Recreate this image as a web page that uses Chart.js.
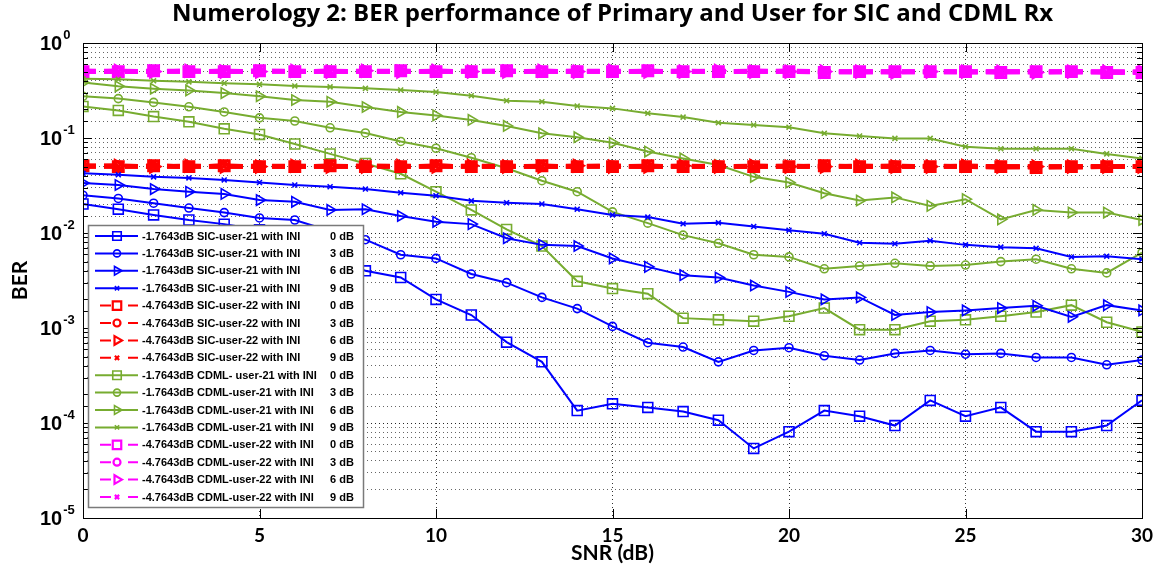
<!DOCTYPE html>
<html>
<head>
<meta charset="utf-8">
<script src="https://cdn.jsdelivr.net/npm/chart.js@4.4.0/dist/chart.umd.min.js"></script>
<style>
  body { margin: 0; background: #fff; }
</style>
</head>
<body>
<canvas id="berChart" width="1163" height="576"></canvas>
<script>
// SNR axis (dB)
const snr = [0,1,2,3,4,5,6,7,8,9,10,11,12,13,14,15,16,17,18,19,20,21,22,23,24,25,26,27,28,29,30];

// SIC receiver, user-21 (-1.7643 dB)
const sicU21_0 = [0.0202,0.0178,0.0155,0.0137,0.0124,0.0108,0.0086,0.0060,0.0040,0.0034,0.0020,0.00137,0.00071,0.00044,0.000135,0.000159,0.000146,0.000132,0.000107,0.000054,0.000081,0.000135,0.000118,0.000094,0.000173,0.000118,0.000146,0.000081,0.000081,0.000094,0.000173];
const sicU21_3 = [0.025,0.0231,0.0206,0.0183,0.0164,0.0144,0.0137,0.0105,0.0085,0.0059,0.0054,0.0037,0.0030,0.0021,0.0016,0.00104,0.00070,0.00063,0.00044,0.00058,0.00062,0.00051,0.00046,0.00054,0.00058,0.00053,0.00054,0.00049,0.00049,0.00041,0.00046];
const sicU21_6 = [0.0335,0.032,0.029,0.0272,0.0258,0.0222,0.0213,0.0175,0.0178,0.0151,0.0131,0.0124,0.0088,0.0075,0.0073,0.0054,0.0044,0.0036,0.0034,0.0028,0.0024,0.0020,0.0021,0.00137,0.00147,0.00153,0.00162,0.00171,0.00131,0.00174,0.00153];
const sicU21_9 = [0.0425,0.041,0.039,0.038,0.0362,0.034,0.032,0.0307,0.029,0.0265,0.0247,0.0218,0.0208,0.0202,0.0178,0.0155,0.0147,0.0125,0.0128,0.0117,0.0107,0.0098,0.0079,0.0077,0.0083,0.0075,0.0071,0.0069,0.0056,0.0057,0.0053];

// SIC receiver, user-22 (-4.7643 dB)
const sicU22_0 = [0.051,0.050,0.051,0.050,0.051,0.050,0.050,0.051,0.050,0.050,0.051,0.050,0.050,0.051,0.050,0.050,0.051,0.050,0.050,0.050,0.050,0.051,0.050,0.050,0.050,0.050,0.050,0.049,0.050,0.050,0.050];
const sicU22_3 = [0.050,0.051,0.050,0.050,0.050,0.051,0.050,0.050,0.051,0.050,0.050,0.050,0.051,0.050,0.050,0.051,0.050,0.050,0.051,0.050,0.050,0.050,0.050,0.051,0.050,0.050,0.049,0.050,0.050,0.050,0.050];
const sicU22_6 = [0.051,0.051,0.050,0.051,0.050,0.050,0.051,0.050,0.050,0.051,0.050,0.051,0.050,0.050,0.051,0.050,0.050,0.051,0.050,0.051,0.050,0.050,0.051,0.050,0.050,0.051,0.050,0.050,0.050,0.050,0.050];
const sicU22_9 = [0.050,0.050,0.051,0.050,0.051,0.050,0.050,0.050,0.051,0.050,0.051,0.050,0.050,0.050,0.050,0.051,0.050,0.050,0.050,0.050,0.051,0.050,0.050,0.050,0.051,0.050,0.050,0.050,0.049,0.050,0.050];

// CDML receiver, user-21 (-1.7643 dB)
const cdmlU21_0 = [0.215,0.195,0.168,0.148,0.125,0.109,0.0865,0.068,0.054,0.042,0.0272,0.0175,0.0109,0.0073,0.0031,0.0026,0.0023,0.00127,0.00122,0.00118,0.00133,0.00162,0.00096,0.00096,0.00118,0.00122,0.00133,0.00147,0.00174,0.00115,0.00091];
const cdmlU21_3 = [0.275,0.26,0.237,0.213,0.188,0.163,0.151,0.128,0.113,0.092,0.078,0.062,0.048,0.0355,0.0272,0.0167,0.0127,0.0095,0.0078,0.0059,0.0056,0.0042,0.0045,0.0048,0.0045,0.0046,0.0050,0.0053,0.0042,0.0038,0.0062];
const cdmlU21_6 = [0.383,0.35,0.33,0.317,0.297,0.275,0.251,0.241,0.212,0.188,0.173,0.155,0.134,0.112,0.102,0.089,0.072,0.061,0.052,0.039,0.034,0.0262,0.022,0.0237,0.0193,0.0227,0.0139,0.0175,0.0164,0.0164,0.0137];
const cdmlU21_9 = [0.42,0.415,0.40,0.39,0.377,0.367,0.353,0.345,0.333,0.32,0.305,0.279,0.247,0.241,0.217,0.205,0.182,0.166,0.145,0.137,0.130,0.112,0.105,0.099,0.099,0.081,0.077,0.077,0.077,0.068,0.061];

// CDML receiver, user-22 (-4.7643 dB)
const cdmlU22_0 = [0.50,0.50,0.51,0.50,0.50,0.51,0.50,0.50,0.50,0.51,0.50,0.50,0.51,0.50,0.50,0.50,0.51,0.50,0.50,0.50,0.50,0.49,0.50,0.50,0.50,0.50,0.49,0.50,0.50,0.49,0.49];
const cdmlU22_3 = [0.51,0.50,0.50,0.50,0.51,0.50,0.50,0.51,0.50,0.50,0.50,0.51,0.50,0.50,0.51,0.50,0.50,0.50,0.50,0.51,0.50,0.50,0.49,0.50,0.50,0.49,0.50,0.50,0.49,0.50,0.49];
const cdmlU22_6 = [0.50,0.51,0.50,0.51,0.50,0.50,0.51,0.50,0.51,0.50,0.51,0.50,0.50,0.51,0.50,0.51,0.50,0.50,0.51,0.50,0.50,0.50,0.50,0.49,0.50,0.50,0.50,0.49,0.50,0.50,0.50];
const cdmlU22_9 = [0.50,0.50,0.50,0.51,0.50,0.51,0.50,0.50,0.50,0.50,0.50,0.50,0.51,0.50,0.50,0.50,0.50,0.51,0.50,0.50,0.51,0.50,0.50,0.50,0.49,0.50,0.50,0.50,0.50,0.49,0.49];

// legend texts
const seriesNames = [
  '-1.7643dB SIC-user-21 with INI', '-1.7643dB SIC-user-21 with INI', '-1.7643dB SIC-user-21 with INI', '-1.7643dB SIC-user-21 with INI',
  '-4.7643dB SIC-user-22 with INI', '-4.7643dB SIC-user-22 with INI', '-4.7643dB SIC-user-22 with INI', '-4.7643dB SIC-user-22 with INI',
  '-1.7643dB CDML- user-21 with INI', '-1.7643dB CDML-user-21 with INI', '-1.7643dB CDML-user-21 with INI', '-1.7643dB CDML-user-21 with INI',
  '-4.7643dB CDML-user-22 with INI', '-4.7643dB CDML-user-22 with INI', '-4.7643dB CDML-user-22 with INI', '-4.7643dB CDML-user-22 with INI'
];
const inrLabels = ['0 dB', '3 dB', '6 dB', '9 dB'];
const yExponents = ['0', '-1', '-2', '-3', '-4', '-5'];
const xTicks = [0, 5, 10, 15, 20, 25, 30];

const allSeries = [sicU21_0, sicU21_3, sicU21_6, sicU21_9, sicU22_0, sicU22_3, sicU22_6, sicU22_9,
                   cdmlU21_0, cdmlU21_3, cdmlU21_6, cdmlU21_9, cdmlU22_0, cdmlU22_3, cdmlU22_6, cdmlU22_9];
const groupColors = ['#0000FF', '#FF0000', '#77AC30', '#FF00FF'];
const markers = ['rect', 'circle', 'triangle', 'crossRot'];
const markerRadius = { rect: 7, circle: 4, triangle: 6, crossRot: 3.5 };

const datasets = allSeries.map((vals, i) => {
  const group = Math.floor(i / 4);
  const m = markers[i % 4];
  const dashed = group === 1 || group === 3;
  return {
    label: seriesNames[i] + '  ' + inrLabels[i % 4],
    data: vals.map((v, k) => ({ x: snr[k], y: v })),
    borderColor: groupColors[group],
    backgroundColor: 'transparent',
    borderWidth: dashed ? 4.5 : 2,
    borderDash: dashed ? [13, 8] : [],
    pointStyle: m,
    pointRotation: m === 'triangle' ? 90 : 0,
    pointRadius: markerRadius[m],
    pointBorderWidth: dashed ? 3 : 1.6,
    pointBackgroundColor: 'transparent',
    pointBorderColor: groupColors[group],
    tension: 0
  };
});

function drawMarker(ctx, style, x, y, r) {
  ctx.beginPath();
  if (style === 'rect') {
    const s = r * Math.SQRT1_2;
    ctx.rect(x - s, y - s, 2 * s, 2 * s);
  } else if (style === 'circle') {
    ctx.arc(x, y, r, 0, Math.PI * 2);
  } else if (style === 'triangle') {
    ctx.moveTo(x + r, y);
    ctx.lineTo(x - r * 0.5, y - r * 0.87);
    ctx.lineTo(x - r * 0.5, y + r * 0.87);
    ctx.closePath();
  } else {
    const s = r * Math.SQRT1_2;
    ctx.moveTo(x - s, y - s); ctx.lineTo(x + s, y + s);
    ctx.moveTo(x + s, y - s); ctx.lineTo(x - s, y + s);
  }
  ctx.stroke();
}

const isDecade = v => Math.abs(Math.log10(v) - Math.round(Math.log10(v))) < 1e-9;

// frame, inward ticks, y labels and the boxed legend
const matlabLook = {
  id: 'matlabLook',
  afterDatasetsDraw(chart) {
    const { ctx, chartArea: a, scales: { x, y } } = chart;
    ctx.save();
    ctx.strokeStyle = '#000';
    ctx.lineWidth = 1;
    ctx.setLineDash([]);
    ctx.strokeRect(a.left + 0.5, a.top + 0.5, a.right - a.left, a.bottom - a.top);
    ctx.beginPath();
    y.ticks.forEach(t => {
      const py = Math.round(y.getPixelForValue(t.value)) + 0.5;
      const len = isDecade(t.value) ? 9 : 5;
      ctx.moveTo(a.left, py); ctx.lineTo(a.left + len, py);
      ctx.moveTo(a.right, py); ctx.lineTo(a.right - len, py);
    });
    xTicks.forEach(v => {
      const px = Math.round(x.getPixelForValue(v)) + 0.5;
      ctx.moveTo(px, a.bottom); ctx.lineTo(px, a.bottom - 9);
      ctx.moveTo(px, a.top); ctx.lineTo(px, a.top + 9);
    });
    ctx.stroke();
    ctx.restore();
  },
  afterDraw(chart) {
    const { ctx, chartArea: a, scales: { y } } = chart;
    ctx.save();
    // y tick labels 10^n
    ctx.fillStyle = '#000';
    ctx.textBaseline = 'middle';
    ctx.textAlign = 'left';
    yExponents.forEach(e => {
      const py = y.getPixelForValue(Math.pow(10, Number(e)));
      ctx.font = 'bold 20px "Liberation Sans", Arial, sans-serif';
      ctx.fillText('10', 40, py + 1);
      const w = ctx.measureText('10').width;
      ctx.font = 'bold 13px "Liberation Sans", Arial, sans-serif';
      ctx.fillText(e, 40 + w + 1, py - 8);
    });

    // legend box
    const lx = a.left + 5, ly = a.top + 182, lw = 275, lh = 282;
    ctx.fillStyle = '#fff';
    ctx.fillRect(lx, ly, lw, lh);
    ctx.strokeStyle = '#7a7a7a';
    ctx.lineWidth = 1.5;
    ctx.strokeRect(lx + 0.5, ly + 0.5, lw, lh);
    const rowH = 17.4;
    chart.data.datasets.forEach((ds, i) => {
      const ry = ly + 11 + i * rowH;
      const dashed = ds.borderDash.length > 0;
      ctx.strokeStyle = ds.borderColor;
      ctx.lineWidth = 2;
      ctx.beginPath();
      if (dashed) {
        ctx.moveTo(lx + 12, ry); ctx.lineTo(lx + 23, ry);
        ctx.moveTo(lx + 40, ry); ctx.lineTo(lx + 50, ry);
      } else {
        ctx.moveTo(lx + 7, ry); ctx.lineTo(lx + 50, ry);
      }
      ctx.stroke();
      ctx.lineWidth = dashed ? 2.2 : 1.6;
      const m = markers[i % 4];
      const r = m === 'rect' ? 6 : (m === 'circle' ? 3.5 : (m === 'triangle' ? 5 : 3));
      drawMarker(ctx, m, lx + 29, ry, r);
      ctx.fillStyle = '#000';
      ctx.font = 'bold 11px "Liberation Sans", Arial, sans-serif';
      ctx.textBaseline = 'middle';
      ctx.fillText(seriesNames[i], lx + 54, ry + 0.5);
      ctx.fillText(inrLabels[i % 4], lx + 242, ry + 0.5);
    });
    ctx.restore();
  }
};

const gridColor = ctx => (ctx.tick && isDecade(ctx.tick.value)) ? 'rgba(0,0,0,0.85)' : 'rgba(0,0,0,0.6)';

new Chart(document.getElementById('berChart').getContext('2d'), {
  type: 'line',
  data: { datasets: datasets },
  options: {
    responsive: false,
    animation: false,
    layout: { padding: { left: 0, right: 21, top: 0, bottom: 0 } },
    plugins: {
      legend: { display: false },
      tooltip: { enabled: false },
      title: {
        display: true,
        fullSize: false,
        text: 'Numerology 2: BER performance of Primary and User for SIC and CDML Rx',
        color: '#000',
        font: { family: '"Open Sans", Lato, sans-serif', size: 24, weight: 'bold' },
        padding: { top: 0, bottom: 14.2 }
      }
    },
    scales: {
      x: {
        type: 'linear',
        min: 0,
        max: 30,
        afterFit: s => { s.height = 58; },
        ticks: {
          stepSize: 5,
          color: '#000',
          padding: 6,
          font: { family: 'Lato, "Open Sans", sans-serif', size: 19, weight: 'bold' }
        },
        grid: { color: 'rgba(0,0,0,0.8)', lineWidth: 1, drawTicks: false },
        border: { display: false, dash: [1, 3] },
        title: {
          display: true,
          text: 'SNR (dB)',
          color: '#000',
          font: { family: 'Lato, "Open Sans", sans-serif', size: 21, weight: 'bold' },
          padding: { top: 0, bottom: 10 }
        }
      },
      y: {
        type: 'logarithmic',
        min: 1e-5,
        max: 1,
        afterFit: s => { s.width = 83; },
        ticks: { display: false, autoSkip: false },
        grid: { color: gridColor, lineWidth: 1, drawTicks: false },
        border: { display: false, dash: [1, 3] },
        title: {
          display: true,
          text: 'BER',
          color: '#000',
          font: { family: 'Lato, "Open Sans", sans-serif', size: 21, weight: 'bold' },
          padding: { top: 8, bottom: 0 }
        }
      }
    }
  },
  plugins: [matlabLook]
});
</script>
</body>
</html>
